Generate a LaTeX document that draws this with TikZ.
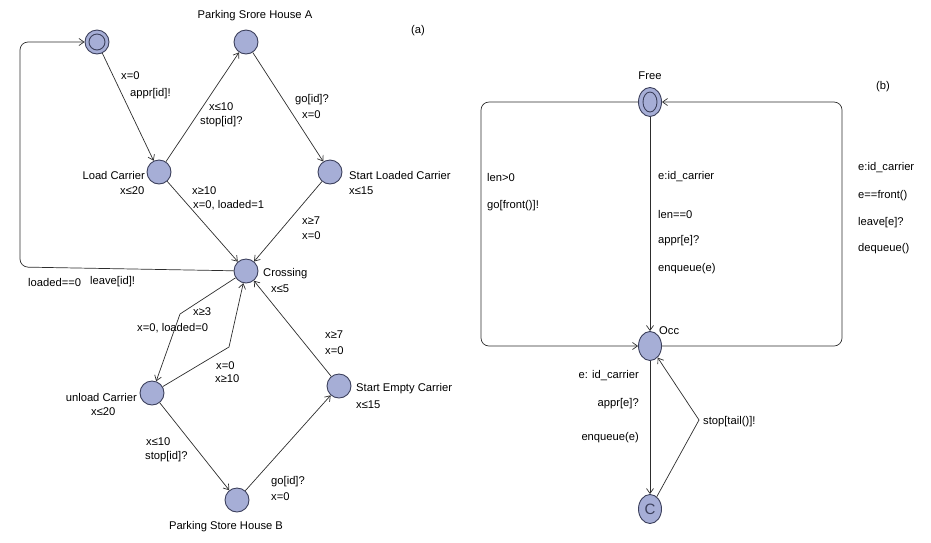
\documentclass[tikz,border=0pt]{standalone}
\usepackage{fontspec}
\setmainfont{Liberation Sans}
\usetikzlibrary{arrows.meta,shapes.geometric}
\definecolor{locfill}{RGB}{166,174,214}
\definecolor{locline}{RGB}{60,64,92}
\definecolor{edgec}{RGB}{45,45,45}

\begin{document}
\begin{tikzpicture}[x=1pt, y=-1pt,
    loc/.style={circle, draw=locline, fill=locfill, line width=0.9pt, minimum size=24pt, inner sep=0pt},
    uloc/.style={ellipse, draw=locline, fill=locfill, line width=0.9pt, minimum width=23pt, minimum height=29pt, inner sep=0pt},
    lbl/.style={anchor=west, inner sep=0pt, font=\fontsize{11.2}{13}\selectfont},
    edge/.style={draw=edgec, line width=0.7pt, -{Straight Barb[length=5pt,width=7pt]}}]
    \path[use as bounding box] (0,0) rectangle (931,542);

    % (a) carrier automaton
    \node[loc] (init)   at (97,42)   {};
    \draw[locline, line width=0.9pt] (init) circle[radius=8pt];
    \node[loc] (parkA)  at (246,42)  {};
    \node[loc] (load)   at (159,172) {};
    \node[loc] (startL) at (330,172) {};
    \node[loc] (cross)  at (246,271) {};
    \node[loc] (unload) at (152,393) {};
    \node[loc] (startE) at (339,386) {};
    \node[loc] (parkB)  at (237,500) {};

    \node[lbl, anchor=center] (nparkA) at (255,16)  {Parking Srore House A};
    \node[lbl, anchor=center] (capa)   at (418,31)  {(a)};
    \node[lbl, anchor=east]   (nload)  at (145,175) {Load Carrier};
    \node[lbl]                (iload)  at (120,191) {x≤20};
    \node[lbl]                (nstL)   at (349,175) {Start Loaded Carrier};
    \node[lbl]                (istL)   at (349,191) {x≤15};
    \node[lbl]                (ncross) at (263,274) {Crossing};
    \node[lbl]                (icross) at (271,289) {x≤5};
    \node[lbl, anchor=east]   (nunl)   at (137,397) {unload Carrier};
    \node[lbl]                (iunl)   at (91,412)  {x≤20};
    \node[lbl]                (nstE)   at (356,389) {Start Empty Carrier};
    \node[lbl]                (istE)   at (356,405) {x≤15};
    \node[lbl, anchor=center] (nparkB) at (226,527) {Parking Store House B};

    % bends
    \coordinate (c1) at (20,267);
    \coordinate (c2) at (20,42);
    \coordinate (w1) at (180,314);
    \coordinate (w2) at (229,347);

    \draw[edge] (init) -- (load);
    \draw[edge] (load) -- (parkA);
    \draw[edge] (parkA) -- (startL);
    \draw[edge] (load) -- (cross);
    \draw[edge] (startL) -- (cross);
    \draw[edge, rounded corners=8pt] (cross) -- (c1) -- (c2) -- (init);
    \draw[edge] (cross) -- (w1) -- (unload);
    \draw[edge] (unload) -- (w2) -- (cross);
    \draw[edge] (unload) -- (parkB);
    \draw[edge] (parkB) -- (startE);
    \draw[edge] (startE) -- (cross);

    \node[lbl] (g1) at (121,76)  {x=0};
    \node[lbl] (s1) at (130,94)  {appr[id]!};
    \node[lbl] (g2) at (209,107) {x≤10};
    \node[lbl] (s2) at (200,122) {stop[id]?};
    \node[lbl] (s3) at (295,100) {go[id]?};
    \node[lbl] (u3) at (302,115) {x=0};
    \node[lbl] (g4) at (192,191) {x≥10};
    \node[lbl] (u4) at (193,205) {x=0, loaded=1};
    \node[lbl] (g5) at (302,221) {x≥7};
    \node[lbl] (u5) at (302,236) {x=0};
    \node[lbl] (g6) at (28,282)  {loaded==0};
    \node[lbl] (s6) at (90,282)  {leave[id]!};
    \node[lbl] (g7) at (193,312) {x≥3};
    \node[lbl] (u7) at (137,328) {x=0, loaded=0};
    \node[lbl] (u8) at (216,366) {x=0};
    \node[lbl] (g8) at (215,379) {x≥10};
    \node[lbl] (g9) at (146,442) {x≤10};
    \node[lbl] (s9) at (145,457) {stop[id]?};
    \node[lbl] (s10) at (271,482) {go[id]?};
    \node[lbl] (u10) at (271,497) {x=0};
    \node[lbl] (g11) at (325,335) {x≥7};
    \node[lbl] (u11) at (325,351) {x=0};

    % (b) queue automaton
    \node[uloc] (free)  at (650,102) {};
    \draw[locline, line width=0.9pt] (free) ellipse[x radius=7pt, y radius=10pt];
    \node[uloc] (occ)   at (650,346) {};
    \node[uloc, font=\fontsize{15}{15}\selectfont, text=locline] (cnode) at (650,509) {C};

    \node[lbl, anchor=center] (nfree) at (650,76) {Free};
    \node[lbl, anchor=center] (capb)  at (883,87) {(b)};
    \node[lbl]                (nocc)  at (659,331) {Occ};

    \coordinate (b1) at (481,102);
    \coordinate (b2) at (481,346);
    \coordinate (b3) at (842,346);
    \coordinate (b4) at (842,102);
    \coordinate (w3) at (699,420);

    \draw[edge, rounded corners=8pt] (free) -- (b1) -- (b2) -- (occ);
    \draw[edge] (free) -- (occ);
    \draw[edge, rounded corners=8pt] (occ) -- (b3) -- (b4) -- (free);
    \draw[edge] (occ) -- (cnode);
    \draw[edge] (cnode) -- (w3) -- (occ);

    \node[lbl] (q1) at (487,177) {len>0};
    \node[lbl] (q2) at (487,206) {go[front()]!};
    \node[lbl] (q3) at (658,177) {e:id\_carrier};
    \node[lbl] (q4) at (658,214) {len==0};
    \node[lbl] (q5) at (658,241) {appr[e]?};
    \node[lbl] (q6) at (658,269) {enqueue(e)};
    \node[lbl] (q7) at (858,168) {e:id\_carrier};
    \node[lbl] (q8) at (858,196) {e==front()};
    \node[lbl] (q9) at (858,223) {leave[e]?};
    \node[lbl] (q10) at (858,249) {dequeue()};
    \node[lbl, anchor=east] (q11) at (639,376) {e: id\_carrier};
    \node[lbl, anchor=east] (q12) at (639,404) {appr[e]?};
    \node[lbl, anchor=east] (q13) at (639,438) {enqueue(e)};
    \node[lbl] (q14) at (703,422) {stop[tail()]!};
\end{tikzpicture}
\end{document}
